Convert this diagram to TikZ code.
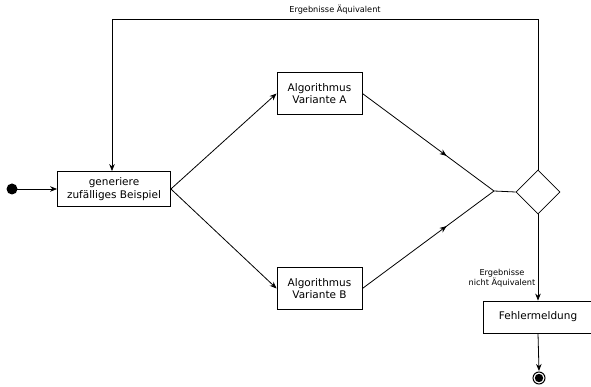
\documentclass[tikz,border=0pt]{standalone}
\usepackage{fontspec}
\setmainfont{DejaVu Sans}
\usetikzlibrary{arrows.meta,shapes.geometric,decorations.markings,calc}
\begin{document}
\begin{tikzpicture}[x=1pt,y=-1pt,
  box/.style={draw,thick,line width=0.8pt,inner sep=0pt,align=center,font=\fontsize{10.5}{12.7}\selectfont},
  lbl/.style={inner sep=0pt,align=center,font=\fontsize{8.2}{10.5}\selectfont},
  arr/.style={-{Stealth[length=7pt,width=5.5pt]}},
  conn/.style={line width=0.8pt},
  midarr/.style={postaction={decorate},decoration={markings,mark=at position #1 with {\arrow{Stealth[length=7pt,width=5.5pt]}}}}
]
\useasboundingbox (0,0) rectangle (591,387);
\fill (12,189) circle (5.5) coordinate (start);
\node[box,minimum width=113pt,minimum height=35pt] (gen) at (114,189) {generiere\\zufälliges Beispiel};
\node[box,minimum width=85pt,minimum height=42pt] (A) at (319.5,93.5) {Algorithmus\\Variante A};
\node[box,minimum width=85pt,minimum height=42pt] (B) at (319.5,288.5) {Algorithmus\\Variante B};
\coordinate (j) at (494,191);
\node[draw,line width=0.8pt,diamond,minimum width=44pt,minimum height=44pt,inner sep=0pt] (d) at (538,192) {};
\node[box,minimum width=110pt,minimum height=32pt] (F) at (538,317) {Fehlermeldung};
\coordinate (end) at (539,378);
\draw[conn,arr] (start) -- (gen.west);
\draw[conn,arr] (gen.east) -- (A.west);
\draw[conn,arr] (gen.east) -- (B.west);
\draw[conn,midarr=0.64] (A.east) -- (j);
\draw[conn,midarr=0.64] (B.east) -- (j);
\draw[conn] (j) -- (d.west);
\draw[conn,arr] (d.north) -- (538,19) -- (112,19) -- (gen.north -| 112,0);
\node[lbl] (l1) at (335,10) {Ergebnisse Äquivalent};
\draw[conn,arr] (d.south) -- (F.north);
\node[lbl] (l2) at (502,278) {Ergebnisse\\nicht Äquivalent};
\draw[conn,arr] (F.south) -- ($(end)+(0,-7)$);
\draw[line width=1pt] (end) circle (6);
\fill (end) circle (4.2);
\end{tikzpicture}
\end{document}
